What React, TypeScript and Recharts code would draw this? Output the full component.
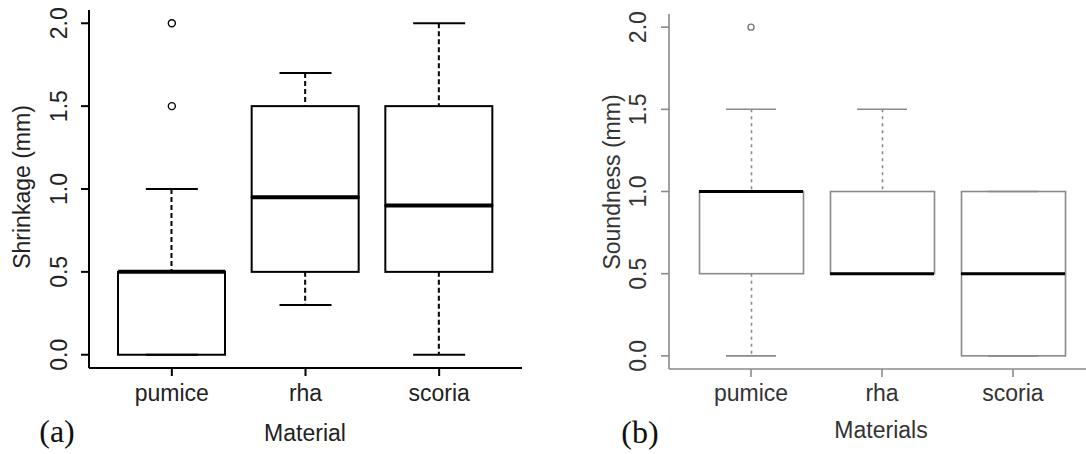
import React from 'react';
import { ComposedChart, Bar, Scatter, XAxis, YAxis } from 'recharts';

// ---------- data ----------
const categories = ['pumice', 'rha', 'scoria'];
const yTicks = [0, 0.5, 1, 1.5, 2];

// (a) Shrinkage (mm)
const shrinkMin = [0, 0.3, 0];
const shrinkQ1 = [0, 0.5, 0.5];
const shrinkMedian = [0.5, 0.95, 0.9];
const shrinkQ3 = [0.5, 1.5, 1.5];
const shrinkMax = [1.0, 1.7, 2.0];
const shrinkOutliers: number[][] = [[1.5, 2.0], [], []];

// (b) Soundness (mm)
const soundMin = [0, 0.5, 0];
const soundQ1 = [0.5, 0.5, 0];
const soundMedian = [1.0, 0.5, 0.5];
const soundQ3 = [1.0, 1.0, 1.0];
const soundMax = [1.5, 1.5, 1.0];
const soundOutliers: number[][] = [[2.0], [], []];

const buildRows = (
  mn: number[], q1: number[], md: number[], q3: number[], mx: number[], outs: number[][]
) =>
  categories.map((name, i) => ({
    name,
    base: mn[i],
    wLow: q1[i] - mn[i],
    boxLow: md[i] - q1[i],
    boxHigh: q3[i] - md[i],
    wHigh: mx[i] - q3[i],
    min: mn[i],
    max: mx[i],
    median: md[i],
    out1: outs[i][0] ?? null,
    out2: outs[i][1] ?? null,
  }));

const shrinkRows = buildRows(shrinkMin, shrinkQ1, shrinkMedian, shrinkQ3, shrinkMax, shrinkOutliers);
const soundRows = buildRows(soundMin, soundQ1, soundMedian, soundQ3, soundMax, soundOutliers);

const FONT = '"Liberation Sans", Arial, sans-serif';
const FS = 23;

type Style = {
  stroke: string;
  boxWidth: number;
  capWidth: number;
  lineW: number;
  medianW: number;
  dash: string;
  text: string;
  frame: string;
  r: number;
};

const leftStyle: Style = {
  stroke: '#000', boxWidth: 107, capWidth: 52, lineW: 2, medianW: 4, dash: '5 3',
  text: '#222', frame: '#000', r: 3.5,
};
const rightStyle: Style = {
  stroke: '#8a8a8a', boxWidth: 104, capWidth: 50, lineW: 1.6, medianW: 3, dash: '3 4',
  text: '#333', frame: '#8a8a8a', r: 3,
};

const boxShape = (s: Style) => (p: any) => {
  const { x, y, width, height } = p;
  if (!height || height <= 0) return <g />;
  return <rect x={x} y={y} width={width} height={height} fill="none" stroke={s.stroke} strokeWidth={s.lineW} />;
};
const whiskerShape = (s: Style) => (p: any) => {
  const { x, y, width, height } = p;
  if (!height || height <= 0) return <g />;
  const cx = x + width / 2;
  return <line x1={cx} x2={cx} y1={y} y2={y + height} stroke={s.stroke} strokeWidth={s.lineW} strokeDasharray={s.dash} />;
};
const hLineShape = (key: string, half: number, color: string, w: number) => (p: any) => {
  const { cx, cy, payload } = p;
  if (!payload || payload[key] == null || !isFinite(cy)) return <g />;
  return <line x1={cx - half} x2={cx + half} y1={cy} y2={cy} stroke={color} strokeWidth={w} />;
};
const outlierShape = (key: string, s: Style) => (p: any) => {
  const { cx, cy, payload } = p;
  if (!payload || payload[key] == null || !isFinite(cy)) return <g />;
  return <circle cx={cx} cy={cy} r={s.r} fill="none" stroke={s.stroke === '#000' ? '#000' : '#777'} strokeWidth={1.4} />;
};

const makeYTick = (s: Style, shift: number) => (p: any) => {
  const { x, y, payload } = p;
  const X = x - shift;
  return (
    <text x={X} y={y} transform={`rotate(-90, ${X}, ${y})`} textAnchor="middle" fontSize={FS} fontFamily={FONT} fill={s.text}>
      {Number(payload.value).toFixed(1)}
    </text>
  );
};

type PanelProps = {
  rows: any[];
  s: Style;
  width: number;
  margin: { top: number; right: number; bottom: number; left: number };
  pad: number;
  tickMargin: number;
  yShift: number;
};

const Panel = ({ rows, s, width, margin, pad, tickMargin, yShift }: PanelProps) => (
  <ComposedChart width={width} height={454} data={rows} margin={margin} barSize={s.boxWidth}>
    <XAxis
      dataKey="name"
      padding={{ left: pad, right: pad }}
      height={30}
      tickSize={8}
      tickMargin={tickMargin}
      stroke={s.frame}
      axisLine={{ stroke: s.frame, strokeWidth: s.lineW }}
      tickLine={{ stroke: s.frame, strokeWidth: s.lineW }}
      tick={{ fontSize: FS, fontFamily: FONT, fill: s.text }}
      interval={0}
    />
    <XAxis xAxisId="top" dataKey="name" orientation="top" height={0} tick={false} tickLine={false}
      axisLine={{ stroke: s.frame, strokeWidth: s.lineW }} />
    <YAxis
      type="number"
      domain={[-0.08, 2.08]}
      ticks={yTicks}
      width={60}
      tickSize={8}
      allowDataOverflow
      axisLine={{ stroke: s.frame, strokeWidth: s.lineW }}
      tickLine={{ stroke: s.frame, strokeWidth: s.lineW }}
      tick={makeYTick(s, yShift)}
    />
    <YAxis yAxisId="right" orientation="right" type="number" domain={[0, 1]} width={0} tick={false} tickLine={false}
      axisLine={{ stroke: s.frame, strokeWidth: s.lineW }} />
    <Bar dataKey="base" stackId="b" fill="none" shape={() => <g />} isAnimationActive={false} />
    <Bar dataKey="wLow" stackId="b" shape={whiskerShape(s)} isAnimationActive={false} />
    <Bar dataKey="boxLow" stackId="b" shape={boxShape(s)} isAnimationActive={false} />
    <Bar dataKey="boxHigh" stackId="b" shape={boxShape(s)} isAnimationActive={false} />
    <Bar dataKey="wHigh" stackId="b" shape={whiskerShape(s)} isAnimationActive={false} />
    <Scatter dataKey="min" shape={hLineShape('min', s.capWidth / 2, s.stroke, s.lineW)} isAnimationActive={false} />
    <Scatter dataKey="max" shape={hLineShape('max', s.capWidth / 2, s.stroke, s.lineW)} isAnimationActive={false} />
    <Scatter dataKey="median" shape={hLineShape('median', s.boxWidth / 2, '#000', s.medianW)} isAnimationActive={false} />
    <Scatter dataKey="out1" shape={outlierShape('out1', s)} isAnimationActive={false} />
    <Scatter dataKey="out2" shape={outlierShape('out2', s)} isAnimationActive={false} />
  </ComposedChart>
);

const txt = (extra: React.CSSProperties): React.CSSProperties => ({
  position: 'absolute',
  whiteSpace: 'nowrap',
  fontFamily: FONT,
  fontSize: FS,
  lineHeight: 1,
  ...extra,
});

export default function App() {
  return (
    <div style={{ position: 'absolute', left: 0, top: 0, width: 1086, height: 454, overflow: 'hidden', background: '#fff' }}>
      <div style={{ position: 'absolute', left: 0, top: 0 }}>
        <Panel rows={shrinkRows} s={leftStyle} width={560}
          margin={{ top: 10, right: 38, bottom: 56, left: 29 }} pad={16} tickMargin={9} yShift={12} />
      </div>
      <div style={{ position: 'absolute', left: 560, top: 0 }}>
        <Panel rows={soundRows} s={rightStyle} width={545}
          margin={{ top: 14, right: 10, bottom: 55, left: 49 }} pad={16.5} tickMargin={8} yShift={13} />
      </div>
      <div style={txt({ left: 22, top: 187, transform: 'translate(-50%, -50%) rotate(-90deg)', color: '#222' })}>Shrinkage (mm)</div>
      <div style={txt({ left: 305, top: 433, transform: 'translate(-50%, -50%)', color: '#222' })}>Material</div>
      <div style={txt({ left: 612, top: 182, transform: 'translate(-50%, -50%) rotate(-90deg)', color: '#333' })}>Soundness (mm)</div>
      <div style={txt({ left: 881, top: 430, transform: 'translate(-50%, -50%)', color: '#333' })}>Materials</div>
      <div style={txt({ left: 57, top: 431, transform: 'translate(-50%, -50%)', fontFamily: '"Liberation Serif", "Times New Roman", serif', fontSize: 32, color: '#111' })}>(a)</div>
      <div style={txt({ left: 640, top: 432, transform: 'translate(-50%, -50%)', fontFamily: '"Liberation Serif", "Times New Roman", serif', fontSize: 32, color: '#111' })}>(b)</div>
    </div>
  );
}
